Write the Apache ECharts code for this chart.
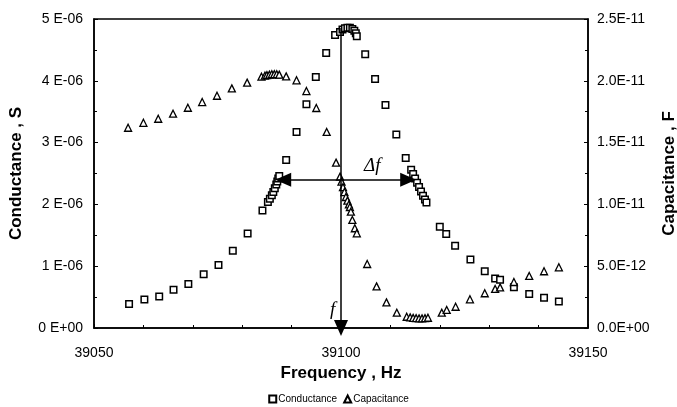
<!DOCTYPE html>
<html>
<head>
<meta charset="utf-8">
<script src="https://cdn.jsdelivr.net/npm/echarts@6/dist/echarts.min.js"></script>
<style>
  html, body { margin: 0; padding: 0; background: #fff; }
  #chart { width: 677px; height: 407px; }
</style>
</head>
<body>
<div id="chart"></div>
<script>
// conductance, in units of 1E-06 S
const conductanceFreq = [
  39057.1, 39060.2, 39063.2, 39066.1, 39069.1, 39072.2, 39075.2, 39078.1, 39081.1, 39084.1,
  39085.2, 39085.6, 39086.0, 39086.3, 39086.6, 39086.9, 39087.1, 39087.3, 39087.5,
  39088.9, 39091.0, 39093.0, 39094.9, 39097.0, 39098.8,
  39099.8, 39100.3, 39100.8, 39101.3, 39101.8, 39102.3, 39102.7, 39103.0, 39103.2,
  39104.9, 39106.9, 39109.0, 39111.2, 39113.1,
  39114.2, 39114.6, 39115.0, 39115.4, 39115.8, 39116.2, 39116.6, 39117.0, 39117.3,
  39120.0, 39121.3, 39123.1, 39126.2, 39129.1, 39131.2, 39132.2, 39135.0, 39138.1, 39141.1, 39144.1
]
const conductance = [
  0.39, 0.46, 0.51, 0.62, 0.71, 0.87, 1.02, 1.25, 1.53, 1.90,
  2.04, 2.09, 2.15, 2.20, 2.26, 2.32, 2.37, 2.42, 2.46,
  2.72, 3.17, 3.62, 4.06, 4.45, 4.74,
  4.79, 4.83, 4.85, 4.86, 4.86, 4.84, 4.81, 4.77, 4.72,
  4.43, 4.03, 3.61, 3.13, 2.75,
  2.56, 2.49, 2.42, 2.35, 2.28, 2.21, 2.14, 2.08, 2.03,
  1.64, 1.52, 1.33, 1.11, 0.92, 0.80, 0.78, 0.66, 0.55, 0.49, 0.43
]

// capacitance, in units of 1E-12 F
const capacitanceFreq = [
  39056.9, 39060.0, 39063.0, 39066.0, 39069.0, 39071.9, 39074.9, 39077.9, 39081.0, 39083.9,
  39084.6, 39085.0, 39085.5, 39086.0, 39086.5, 39087.0, 39087.5,
  39088.9, 39091.0, 39093.0, 39095.0, 39097.1, 39099.0,
  39099.8, 39100.1, 39100.4, 39100.7, 39101.0, 39101.3, 39101.6, 39101.8, 39102.0, 39102.3, 39102.8, 39103.2,
  39105.3, 39107.2, 39109.2, 39111.3, 39113.3,
  39114.0, 39114.6, 39115.2, 39115.8, 39116.4, 39117.0, 39117.6,
  39120.4, 39121.4, 39123.2, 39126.1, 39129.1, 39131.2, 39132.2, 39135.0, 39138.1, 39141.1, 39144.1
]
const capacitance = [
  16.2, 16.6, 16.93, 17.34, 17.82, 18.28, 18.79, 19.39, 19.85, 20.33,
  20.42, 20.46, 20.5, 20.53, 20.54, 20.53, 20.5,
  20.36, 20.04, 19.17, 17.8, 15.86, 13.38,
  12.25, 11.84, 11.4, 11.0, 10.6, 10.3, 10.0, 9.79, 9.41, 8.74, 8.07, 7.66,
  5.18, 3.37, 2.07, 1.24, 0.91,
  0.86, 0.82, 0.8, 0.78, 0.78, 0.8, 0.83,
  1.24, 1.46, 1.72, 2.32, 2.81, 3.16, 3.29, 3.72, 4.21, 4.59, 4.91
]

// annotation arrows (frequency, conductance units)
const centerFreq = 39100
const peakTop = 4.86
const deltaLeft = 39088.3
const deltaRight = 39113.6
const deltaLevel = 2.4

const leftTicks = ['0 E+00', '1 E-06', '2 E-06', '3 E-06', '4 E-06', '5 E-06']
const rightTicks = ['0.0E+00', '5.0E-12', '1.0E-11', '1.5E-11', '2.0E-11', '2.5E-11']

const font = 'Liberation Sans, Arial, sans-serif'
const zip = (xs, ys) => xs.map((x, i) => [x, ys[i]])

const chart = echarts.init(document.getElementById('chart'))

const axisCommon = {
  axisLine: { show: true, lineStyle: { color: '#000', width: 1.5 } },
  axisTick: { show: true, inside: true, length: 4, lineStyle: { color: '#000' } },
  minorTick: { show: true, length: 3, lineStyle: { color: '#000' } },
  splitLine: { show: false },
  axisLabel: { color: '#000', fontFamily: font, fontSize: 14 },
  nameTextStyle: { color: '#000', fontFamily: font, fontSize: 17, fontWeight: 'bold' }
}

chart.setOption({
  animation: false,
  backgroundColor: '#fff',
  grid: {
    left: 94, right: 89, top: 19, bottom: 79,
    outerBoundsMode: 'none',
    show: true, borderColor: '#000', borderWidth: 1.5
  },
  legend: {
    bottom: -2,
    left: 'center',
    itemWidth: 7,
    itemHeight: 7,
    itemGap: 6,
    textStyle: { fontFamily: font, fontSize: 10, color: '#000', padding: [0, 0, 0, -3] },
    data: ['Conductance', 'Capacitance']
  },
  xAxis: {
    ...axisCommon,
    type: 'value',
    min: 39050,
    max: 39150,
    interval: 50,
    minorTick: { ...axisCommon.minorTick, splitNumber: 5 },
    axisLabel: { ...axisCommon.axisLabel, margin: 18, formatter: (v) => String(v) },
    name: 'Frequency , Hz',
    nameLocation: 'middle',
    nameGap: 36
  },
  yAxis: [
    {
      ...axisCommon,
      type: 'value',
      min: 0,
      max: 5,
      interval: 1,
      minorTick: { ...axisCommon.minorTick, splitNumber: 2 },
      axisLabel: { ...axisCommon.axisLabel, margin: 11, formatter: (v) => leftTicks[Math.round(v)] },
      name: 'Conductance , S',
      nameLocation: 'middle',
      nameRotate: 90,
      nameGap: 69
    },
    {
      ...axisCommon,
      type: 'value',
      position: 'right',
      min: 0,
      max: 25,
      interval: 5,
      minorTick: { ...axisCommon.minorTick, splitNumber: 2 },
      axisLabel: { ...axisCommon.axisLabel, margin: 9, formatter: (v) => rightTicks[Math.round(v / 5)] },
      name: 'Capacitance , F',
      nameLocation: 'middle',
      nameRotate: 90,
      nameGap: 66
    }
  ],
  series: [
    {
      name: 'Conductance',
      type: 'scatter',
      yAxisIndex: 0,
      symbol: 'rect',
      symbolSize: 6.5,
      itemStyle: { color: '#fff', borderColor: '#000', borderWidth: 1.5, opacity: 1 },
      data: zip(conductanceFreq, conductance),
      z: 3,
      markLine: {
        silent: true,
        animation: false,
        label: { show: false },
        lineStyle: { color: '#000', width: 1.5, type: 'solid' },
        symbol: 'triangle',
        symbolSize: [14, 16],
        data: [
          [{ coord: [centerFreq, peakTop], symbol: 'none' }, { coord: [centerFreq, 0], symbol: 'triangle' }],
          [{ coord: [deltaLeft, deltaLevel] }, { coord: [deltaRight, deltaLevel] }]
        ]
      }
    },
    {
      name: 'Capacitance',
      type: 'scatter',
      yAxisIndex: 1,
      symbol: 'triangle',
      symbolSize: 7,
      itemStyle: { color: '#fff', borderColor: '#000', borderWidth: 1.3, opacity: 1 },
      data: zip(capacitanceFreq, capacitance),
      z: 4
    }
  ],
  graphic: [
    {
      type: 'text',
      left: 364,
      top: 156,
      style: { text: 'Δf', font: 'italic 19px "Liberation Serif", serif', fill: '#000' }
    },
    {
      type: 'text',
      left: 330,
      top: 300,
      style: { text: 'f', font: 'italic 19px "Liberation Serif", serif', fill: '#000' }
    }
  ]
})
</script>
</body>
</html>
